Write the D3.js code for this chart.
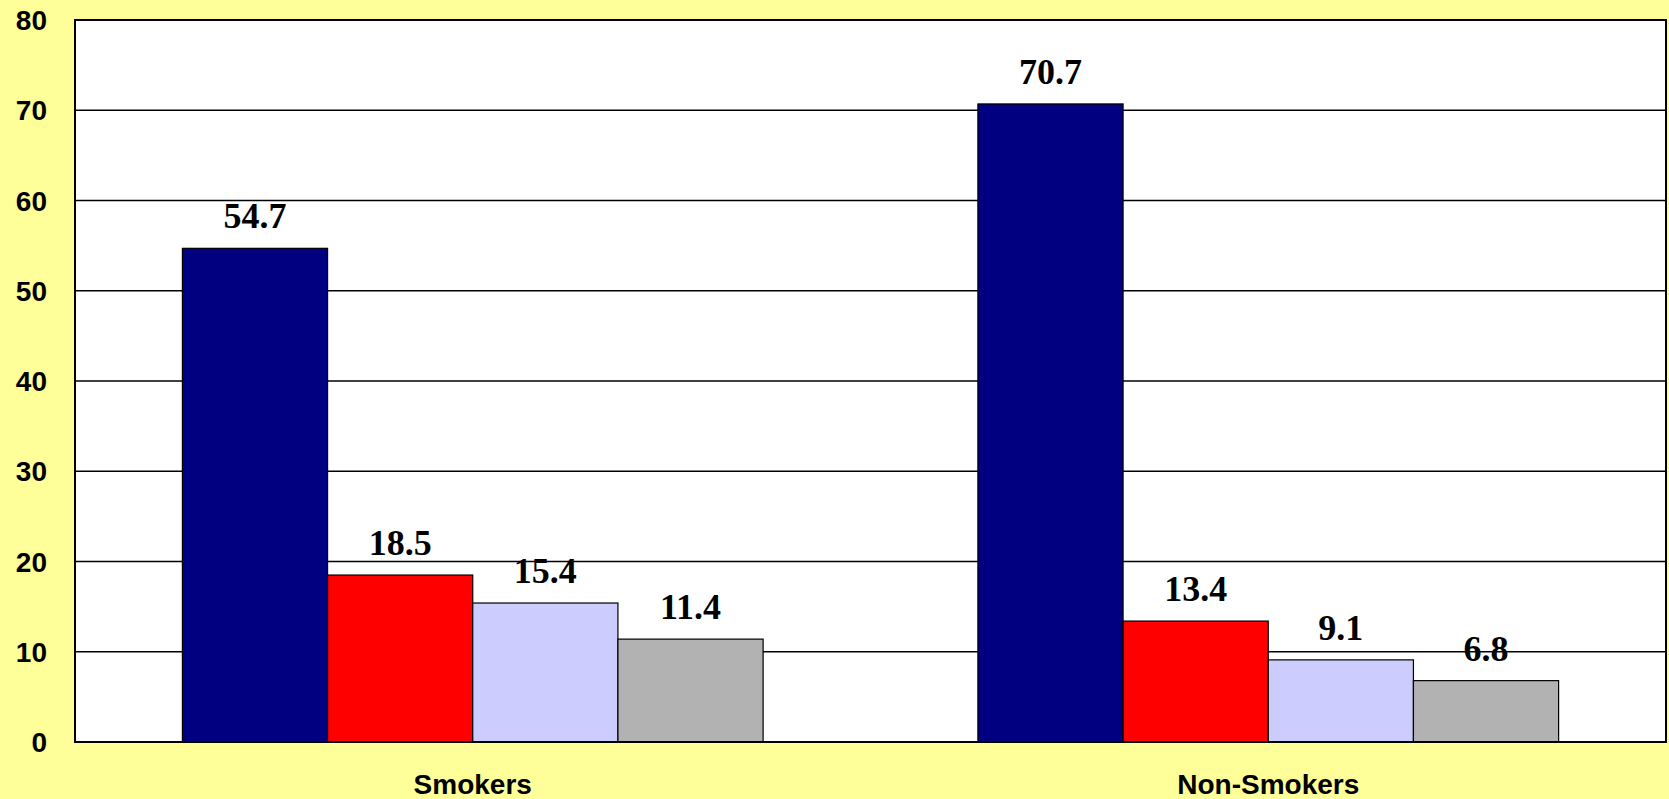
<!doctype html>
<html lang="en">
  <head>
    <meta charset="utf-8">
    <title>Smokers vs Non-Smokers</title>
    <style>
      * { margin: 0; padding: 0; }
      body { width: 1669px; height: 799px; overflow: hidden; background: #ffff99; }
      svg { display: block; }
    </style>
    <script src="https://cdn.jsdelivr.net/npm/d3@7"></script>
  </head>
  <body>
    <svg></svg>
    <script>
      const categories = ["Smokers", "Non-Smokers"];
      const seriesNames = ["s1", "s2", "s3", "s4"];
      const seriesColors = ["#000080", "#ff0000", "#ccccff", "#b2b2b2"];
      const smokersValues = [54.7, 18.5, 15.4, 11.4];
      const nonSmokersValues = [70.7, 13.4, 9.1, 6.8];
      const yTicks = [0, 10, 20, 30, 40, 50, 60, 70, 80];

      const width = 1669, height = 799;
      const margin = { top: 20, right: 3, bottom: 57, left: 75 };
      const valuesByCat = [smokersValues, nonSmokersValues];

      const svg = d3.select("svg").attr("width", width).attr("height", height);

      svg.append("rect")
          .attr("width", width).attr("height", height)
          .attr("fill", "#ffff99");

      const x0 = d3.scaleBand()
          .domain(categories)
          .range([margin.left, width - margin.right])
          .paddingInner(0.27)
          .paddingOuter(0.135);

      const x1 = d3.scaleBand()
          .domain(seriesNames)
          .range([0, x0.bandwidth()]);

      const y = d3.scaleLinear()
          .domain([0, 80])
          .range([height - margin.bottom, margin.top]);

      // plot area
      svg.append("rect")
          .attr("x", margin.left).attr("y", margin.top)
          .attr("width", width - margin.left - margin.right)
          .attr("height", height - margin.top - margin.bottom)
          .attr("fill", "#ffffff");

      // gridlines
      svg.append("g")
          .selectAll("line")
          .data(yTicks.filter(t => t > 0 && t < 80))
          .join("line")
            .attr("x1", margin.left).attr("x2", width - margin.right)
            .attr("y1", d => y(d)).attr("y2", d => y(d))
            .attr("stroke", "#000").attr("stroke-width", 1.5);

      // bars
      const groups = svg.append("g")
          .selectAll("g")
          .data(categories.map((c, i) => ({ cat: c, vals: valuesByCat[i] })))
          .join("g")
            .attr("transform", d => `translate(${x0(d.cat)},0)`);

      groups.selectAll("rect")
          .data(d => d.vals.map((v, i) => ({ key: seriesNames[i], v, i })))
          .join("rect")
            .attr("x", d => x1(d.key))
            .attr("y", d => y(d.v))
            .attr("width", x1.bandwidth())
            .attr("height", d => y(0) - y(d.v))
            .attr("fill", d => seriesColors[d.i])
            .attr("stroke", "#000")
            .attr("stroke-width", 1.2);

      groups.selectAll("text")
          .data(d => d.vals.map((v, i) => ({ key: seriesNames[i], v })))
          .join("text")
            .attr("x", d => x1(d.key) + x1.bandwidth() / 2)
            .attr("y", d => y(d.v) - 20)
            .attr("text-anchor", "middle")
            .attr("font-family", "'Liberation Serif', 'Times New Roman', serif")
            .attr("font-weight", "bold")
            .attr("font-size", 36)
            .text(d => d.v.toFixed(1));

      // frame
      svg.append("rect")
          .attr("x", margin.left).attr("y", margin.top)
          .attr("width", width - margin.left - margin.right)
          .attr("height", height - margin.top - margin.bottom)
          .attr("fill", "none")
          .attr("stroke", "#000").attr("stroke-width", 2);

      // y tick labels
      svg.append("g")
          .selectAll("text")
          .data(yTicks)
          .join("text")
            .attr("x", 47)
            .attr("y", d => y(d))
            .attr("dy", "0.36em")
            .attr("text-anchor", "end")
            .attr("font-family", "'Liberation Sans', Arial, sans-serif")
            .attr("font-weight", "bold")
            .attr("font-size", 28)
            .text(d => d);

      // category labels
      svg.append("g")
          .selectAll("text")
          .data(categories)
          .join("text")
            .attr("x", d => x0(d) + x0.bandwidth() / 2)
            .attr("y", 794)
            .attr("text-anchor", "middle")
            .attr("font-family", "'Liberation Sans', Arial, sans-serif")
            .attr("font-weight", "bold")
            .attr("font-size", 28)
            .text(d => d);
    </script>
  </body>
</html>
